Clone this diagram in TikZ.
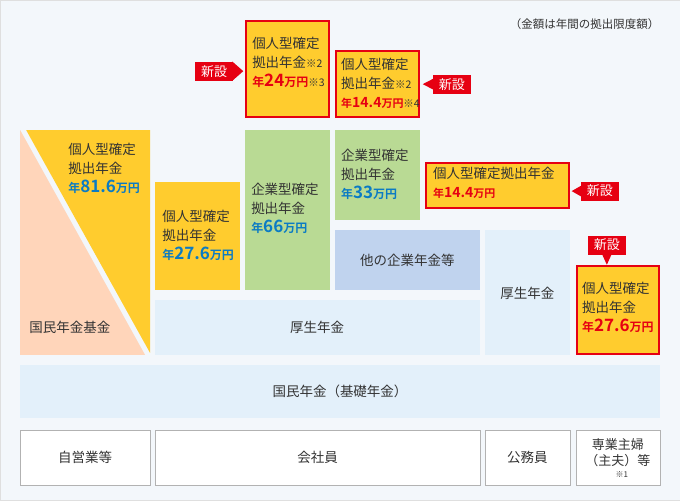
\documentclass[tikz,border=0pt]{standalone}
\usepackage{fontspec}
\setmainfont{Noto Sans CJK JP}
\newfontfamily\jpb{Noto Sans CJK JP Bold}
\definecolor{bg}{HTML}{F3F7FB}
\definecolor{ylw}{HTML}{FFCC2E}
\definecolor{peach}{HTML}{FFD5BA}
\definecolor{grn}{HTML}{B9DA94}
\definecolor{lblue}{HTML}{E3F0FA}
\definecolor{mblue}{HTML}{C0D3EE}
\definecolor{bluetxt}{HTML}{0B7BC4}
\definecolor{redc}{HTML}{E60012}
\definecolor{txt}{HTML}{333333}
\tikzset{
  lbl/.style={font=\fontsize{13.5}{19}\selectfont, text=txt, align=left, inner sep=0pt},
  cen/.style={font=\fontsize{13.5}{17}\selectfont, text=txt, align=center},
  tag/.style={fill=redc, text=white, font=\fontsize{13}{14}\selectfont, inner sep=0pt, minimum height=19pt, minimum width=38pt},
  redbox/.style={draw=redc, line width=1.6pt, fill=ylw},
  btm/.style={draw=gray!60, fill=white},
}
\newcommand{\bnum}[1]{{\jpb\fontsize{12}{14}\selectfont 年}{\jpb\fontsize{17}{19}\selectfont #1}{\jpb\fontsize{12}{14}\selectfont 万円}}
\newcommand{\rnum}[1]{{\jpb\fontsize{11}{14}\selectfont 年}{\jpb\fontsize{14}{19}\selectfont #1}{\jpb\fontsize{11}{14}\selectfont 万円}}
\newcommand{\kome}[1]{{\fontsize{10.5}{12}\selectfont ※#1}}
\begin{document}
\begin{tikzpicture}[x=1pt,y=-1pt]
\fill[bg,draw=gray!25] (0,0) rectangle (680,500);
\useasboundingbox (0,0) rectangle (680,500);
\node[anchor=east, font=\fontsize{11.5}{12}\selectfont, text=txt] (note) at (663,24) {（金額は年間の拠出限度額）};
% left
\fill[peach] (20,130) -- (145,355) -- (20,355) -- cycle;
\fill[ylw] (26,130) -- (150,130) -- (150,353) -- cycle;
\node[lbl, anchor=north west] (k816) at (68,143) {個人型確定\\拠出年金\\\textcolor{bluetxt}{\bnum{81.6}}};
\node[lbl, anchor=west] (kikin) at (29,327) {国民年金基金};
% middle boxes
\fill[ylw] (155,182) rectangle (240,290);
\node[lbl, anchor=north west] (k276) at (162,210) {個人型確定\\拠出年金\\\textcolor{bluetxt}{\bnum{27.6}}};
\fill[grn] (245,130) rectangle (330,290);
\node[lbl, anchor=north west] (g66) at (251,183) {企業型確定\\拠出年金\\\textcolor{bluetxt}{\bnum{66}}};
\fill[grn] (335,130) rectangle (420,220);
\node[lbl, anchor=north west] (g33) at (341,149) {企業型確定\\拠出年金\\\textcolor{bluetxt}{\bnum{33}}};
\fill[mblue] (335,230) rectangle (480,290);
\node[cen] (other) at (407.5,260) {他の企業年金等};
\fill[lblue] (155,300) rectangle (480,355);
\node[cen] (kosei1) at (317,327) {厚生年金};
\fill[lblue] (485,230) rectangle (570,355);
\node[cen] (kosei2) at (527.5,293) {厚生年金};
% new red boxes
\draw[redbox] (246,21) rectangle (329,117);
\node[lbl, anchor=north west] (n24) at (252,37) {個人型確定\\拠出年金\kome{2}\\\textcolor{redc}{\bnum{24}}\kome{3}};
\draw[redbox] (336,51) rectangle (419,117);
\node[lbl, anchor=north west] (n144a) at (341,58) {個人型確定\\拠出年金\kome{2}\\\textcolor{redc}{\rnum{14.4}}\kome{4}};
\draw[redbox] (426,163) rectangle (569,208);
\node[lbl, anchor=north west] (n144b) at (433,167) {個人型確定拠出年金\\\textcolor{redc}{\rnum{14.4}}};
\draw[redbox] (577,266) rectangle (659,354);
\node[lbl, anchor=north west] (n276) at (582,282) {個人型確定\\拠出年金\\\textcolor{redc}{\bnum{27.6}}};
% tags
\node[tag] (t1) at (214,71) {新設};
\fill[redc] ([xshift=-1pt]t1.north east) -- ([xshift=10pt]t1.east) -- ([xshift=-1pt]t1.south east) -- cycle;
\node[tag] (t2) at (452,84) {新設};
\fill[redc] ([xshift=1pt,yshift=-4pt]t2.north west) -- ([xshift=-10pt]t2.west) -- ([xshift=1pt,yshift=4pt]t2.south west) -- cycle;
\node[tag] (t3) at (600,191) {新設};
\fill[redc] ([xshift=1pt,yshift=-4pt]t3.north west) -- ([xshift=-9pt]t3.west) -- ([xshift=1pt,yshift=4pt]t3.south west) -- cycle;
\node[tag] (t4) at (607,245) {新設};
\fill[redc] ([xshift=-5pt,yshift=1pt]t4.south) -- ([yshift=-10pt]t4.south) -- ([xshift=5pt,yshift=1pt]t4.south) -- cycle;
% kokumin
\fill[lblue] (20,365) rectangle (660,418);
\node[cen] (kiso) at (340,391) {国民年金（基礎年金）};
% bottom
\draw[btm] (20,430) rectangle (150,485);
\node[cen] (b1) at (85,457.5) {自営業等};
\draw[btm] (155,430) rectangle (480,485);
\node[cen] (b2) at (317.5,457.5) {会社員};
\draw[btm] (485,430) rectangle (570,485);
\node[cen] (b3) at (527.5,457.5) {公務員};
\draw[btm] (576,430) rectangle (660,485);
\node[cen, font=\fontsize{13}{16}\selectfont] (b4) at (618,453) {専業主婦\\（主夫）等};
\node[font=\fontsize{8}{9}\selectfont, text=txt] (b4n) at (622,475) {※1};
\end{tikzpicture}
\end{document}
